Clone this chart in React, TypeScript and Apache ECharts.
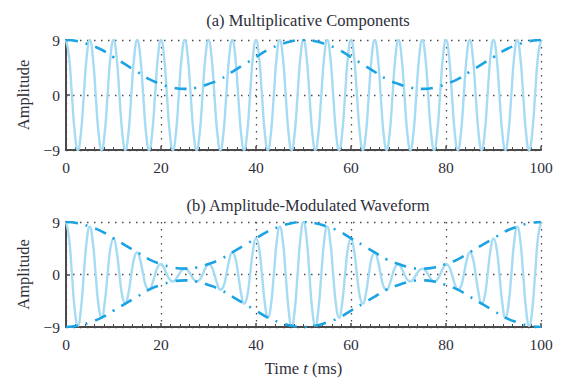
import React, { useEffect, useRef } from "react";
import * as echarts from "echarts";

// Time samples (ms), every eighth of the 5 ms carrier period
const tSamples = [
  0, 0.625, 1.25, 1.875, 2.5, 3.125, 3.75, 4.375,
  5, 5.625, 6.25, 6.875, 7.5, 8.125, 8.75, 9.375,
  10, 10.625, 11.25, 11.875, 12.5, 13.125, 13.75, 14.375,
  15, 15.625, 16.25, 16.875, 17.5, 18.125, 18.75, 19.375,
  20, 20.625, 21.25, 21.875, 22.5, 23.125, 23.75, 24.375,
  25, 25.625, 26.25, 26.875, 27.5, 28.125, 28.75, 29.375,
  30, 30.625, 31.25, 31.875, 32.5, 33.125, 33.75, 34.375,
  35, 35.625, 36.25, 36.875, 37.5, 38.125, 38.75, 39.375,
  40, 40.625, 41.25, 41.875, 42.5, 43.125, 43.75, 44.375,
  45, 45.625, 46.25, 46.875, 47.5, 48.125, 48.75, 49.375,
  50, 50.625, 51.25, 51.875, 52.5, 53.125, 53.75, 54.375,
  55, 55.625, 56.25, 56.875, 57.5, 58.125, 58.75, 59.375,
  60, 60.625, 61.25, 61.875, 62.5, 63.125, 63.75, 64.375,
  65, 65.625, 66.25, 66.875, 67.5, 68.125, 68.75, 69.375,
  70, 70.625, 71.25, 71.875, 72.5, 73.125, 73.75, 74.375,
  75, 75.625, 76.25, 76.875, 77.5, 78.125, 78.75, 79.375,
  80, 80.625, 81.25, 81.875, 82.5, 83.125, 83.75, 84.375,
  85, 85.625, 86.25, 86.875, 87.5, 88.125, 88.75, 89.375,
  90, 90.625, 91.25, 91.875, 92.5, 93.125, 93.75, 94.375,
  95, 95.625, 96.25, 96.875, 97.5, 98.125, 98.75, 99.375,
  100,
];

// Carrier (light curve, panel a)
const carrier = [
  9, 6.4, 0, -6.4, -9, -6.4, 0, 6.4, 9, 6.4, 0, -6.4, -9, -6.4, 0, 6.4,
  9, 6.4, 0, -6.4, -9, -6.4, 0, 6.4, 9, 6.4, 0, -6.4, -9, -6.4, 0, 6.4,
  9, 6.4, 0, -6.4, -9, -6.4, 0, 6.4, 9, 6.4, 0, -6.4, -9, -6.4, 0, 6.4,
  9, 6.4, 0, -6.4, -9, -6.4, 0, 6.4, 9, 6.4, 0, -6.4, -9, -6.4, 0, 6.4,
  9, 6.4, 0, -6.4, -9, -6.4, 0, 6.4, 9, 6.4, 0, -6.4, -9, -6.4, 0, 6.4,
  9, 6.4, 0, -6.4, -9, -6.4, 0, 6.4, 9, 6.4, 0, -6.4, -9, -6.4, 0, 6.4,
  9, 6.4, 0, -6.4, -9, -6.4, 0, 6.4, 9, 6.4, 0, -6.4, -9, -6.4, 0, 6.4,
  9, 6.4, 0, -6.4, -9, -6.4, 0, 6.4, 9, 6.4, 0, -6.4, -9, -6.4, 0, 6.4,
  9, 6.4, 0, -6.4, -9, -6.4, 0, 6.4, 9, 6.4, 0, -6.4, -9, -6.4, 0, 6.4,
  9, 6.4, 0, -6.4, -9, -6.4, 0, 6.4, 9, 6.4, 0, -6.4, -9, -6.4, 0, 6.4,
  9,
];

// Amplitude-modulated waveform (light curve, panel b)
const amWave = [
  9, 6.4, 0, -6.3, -8.8, -6.1, 0, 5.9, 8.2, 5.7, 0, -5.4, -7.4, -5.0, 0, 4.6,
  6.2, 4.2, 0, -3.8, -5, -3.3, 0, 2.9, 3.8, 2.5, 0, -2.1, -2.6, -1.7, 0, 1.4,
  1.8, 1.1, 0, -0.9, -1.2, -0.8, 0, 0.7, 1, 0.7, 0, -0.8, -1.2, -0.9, 0, 1.1,
  1.8, 1.4, 0, -1.7, -2.6, -2.1, 0, 2.5, 3.8, 2.9, 0, -3.3, -5, -3.8, 0, 4.2,
  6.2, 4.6, 0, -5.0, -7.4, -5.4, 0, 5.7, 8.2, 5.9, 0, -6.1, -8.8, -6.3, 0, 6.4,
  9, 6.4, 0, -6.3, -8.8, -6.1, 0, 5.9, 8.2, 5.7, 0, -5.4, -7.4, -5.0, 0, 4.6,
  6.2, 4.2, 0, -3.8, -5, -3.3, 0, 2.9, 3.8, 2.5, 0, -2.1, -2.6, -1.7, 0, 1.4,
  1.8, 1.1, 0, -0.9, -1.2, -0.8, 0, 0.7, 1, 0.7, 0, -0.8, -1.2, -0.9, 0, 1.1,
  1.8, 1.4, 0, -1.7, -2.6, -2.1, 0, 2.5, 3.8, 2.9, 0, -3.3, -5, -3.8, 0, 4.2,
  6.2, 4.6, 0, -5.0, -7.4, -5.4, 0, 5.7, 8.2, 5.9, 0, -6.1, -8.8, -6.3, 0, 6.4,
  9,
];

// Envelope samples (ms)
const envTimes = [
  0, 2.5, 5, 7.5, 10, 12.5, 15, 17.5, 20, 22.5, 25, 27.5, 30, 32.5, 35, 37.5, 40, 42.5, 45, 47.5,
  50, 52.5, 55, 57.5, 60, 62.5, 65, 67.5, 70, 72.5, 75, 77.5, 80, 82.5, 85, 87.5, 90, 92.5, 95, 97.5,
  100,
];
const envelope = [
  9, 8.8, 8.2, 7.4, 6.2, 5, 3.8, 2.6, 1.8, 1.2, 1, 1.2, 1.8, 2.6, 3.8, 5, 6.2, 7.4, 8.2, 8.8,
  9, 8.8, 8.2, 7.4, 6.2, 5, 3.8, 2.6, 1.8, 1.2, 1, 1.2, 1.8, 2.6, 3.8, 5, 6.2, 7.4, 8.2, 8.8,
  9,
];

const xTicks = [0, 20, 40, 60, 80, 100];
const yTicks = [-9, 0, 9];

const titles = ["(a) Multiplicative Components", "(b) Amplitude-Modulated Waveform"];

const FONT = "'Liberation Serif', 'DejaVu Serif', serif";
const TEXT = "#2e2e3a";
const AXIS = "#4a4a4a";
const LIGHT = "#a6dbf4";
const DARK = "#1ca3e3";

export default function App() {
  const ref = useRef<HTMLDivElement>(null);
  useEffect(() => {
    if (!ref.current) return;
    const chart = echarts.init(ref.current, null, { renderer: "svg" });
    const pair = (xs: number[], ys: number[]) => xs.map((x, i) => [x, ys[i]]);
    const negEnv = envelope.map((v) => -v);

    const makeX = (gi: number) => ({
      type: "value",
      gridIndex: gi,
      min: xTicks[0],
      max: xTicks[xTicks.length - 1],
      interval: 20,
      axisLine: { show: true, onZero: false, lineStyle: { color: AXIS, width: 2 } },
      axisTick: { show: true, inside: true, length: 4, lineStyle: { color: AXIS, width: 1.5 } },
      minorTick: { show: true, splitNumber: 10, length: 3, lineStyle: { color: AXIS, width: 1 } },
      axisLabel: { color: TEXT, fontFamily: FONT, fontSize: 15.5, margin: 9 },
      splitLine: { show: true, lineStyle: { color: AXIS, width: 1.3, type: [1.5, 5.5] } },
      name: gi === 1 ? "{a|Time }{i|t}{a| (ms)}" : "",
      nameLocation: "middle",
      nameGap: 33,
      nameTextStyle: {
        rich: {
          a: { fontFamily: FONT, fontSize: 16.5, color: TEXT },
          i: { fontFamily: FONT, fontSize: 16.5, color: TEXT, fontStyle: "italic" },
        },
      },
    });
    const makeY = (gi: number) => ({
      type: "value",
      gridIndex: gi,
      min: yTicks[0],
      max: yTicks[yTicks.length - 1],
      interval: 9,
      axisLine: { show: true, onZero: false, lineStyle: { color: AXIS, width: 2 } },
      axisTick: { show: true, inside: true, length: 4, lineStyle: { color: AXIS, width: 1.5 } },
      axisLabel: {
        color: TEXT,
        fontFamily: FONT,
        fontSize: 15.5,
        margin: 6,
        formatter: (v: number) => (v < 0 ? "\u2212" + Math.abs(v) : String(v)),
      },
      splitLine: { show: true, lineStyle: { color: AXIS, width: 1.3, type: [1.5, 5.5] } },
      name: "Amplitude",
      nameLocation: "middle",
      nameGap: 34,
      nameRotate: 90,
      nameTextStyle: { fontFamily: FONT, fontSize: 16.5, color: TEXT },
    });

    const lightLine = (data: number[][], gi: number) => ({
      type: "line",
      xAxisIndex: gi,
      yAxisIndex: gi,
      data,
      smooth: 0.5,
      showSymbol: false,
      symbol: "none",
      lineStyle: { color: LIGHT, width: 2.4 },
      z: 3,
    });
    const envLine = (data: number[][], gi: number) => ({
      type: "line",
      xAxisIndex: gi,
      yAxisIndex: gi,
      data,
      smooth: 0.5,
      showSymbol: false,
      symbol: "none",
      lineStyle: { color: DARK, width: 2.6, type: [12, 8, 2, 8] },
      z: 4,
    });

    chart.setOption({
      animation: false,
      backgroundColor: "#ffffff",
      title: [
        {
          text: titles[0],
          left: 303,
          textAlign: "center",
          top: 7,
          textStyle: { fontFamily: FONT, fontSize: 16.5, fontWeight: "normal", color: TEXT },
        },
        {
          text: titles[1],
          left: 303,
          textAlign: "center",
          top: 192,
          textStyle: { fontFamily: FONT, fontSize: 16.5, fontWeight: "normal", color: TEXT },
        },
      ],
      grid: [
        { left: 66, right: 25, top: 40, height: 110 },
        { left: 66, right: 25, top: 222, height: 110 },
      ],
      xAxis: [makeX(0), makeX(1)],
      yAxis: [makeY(0), makeY(1)],
      series: [
        lightLine(pair(tSamples, carrier), 0),
        envLine(pair(envTimes, envelope), 0),
        lightLine(pair(tSamples, amWave), 1),
        envLine(pair(envTimes, envelope), 1),
        envLine(pair(envTimes, negEnv), 1),
      ],
    });
    return () => chart.dispose();
  }, []);
  return (
    <div
      ref={ref}
      style={{ position: "fixed", left: 0, top: 0, width: 566, height: 378, background: "#fff" }}
    />
  );
}
